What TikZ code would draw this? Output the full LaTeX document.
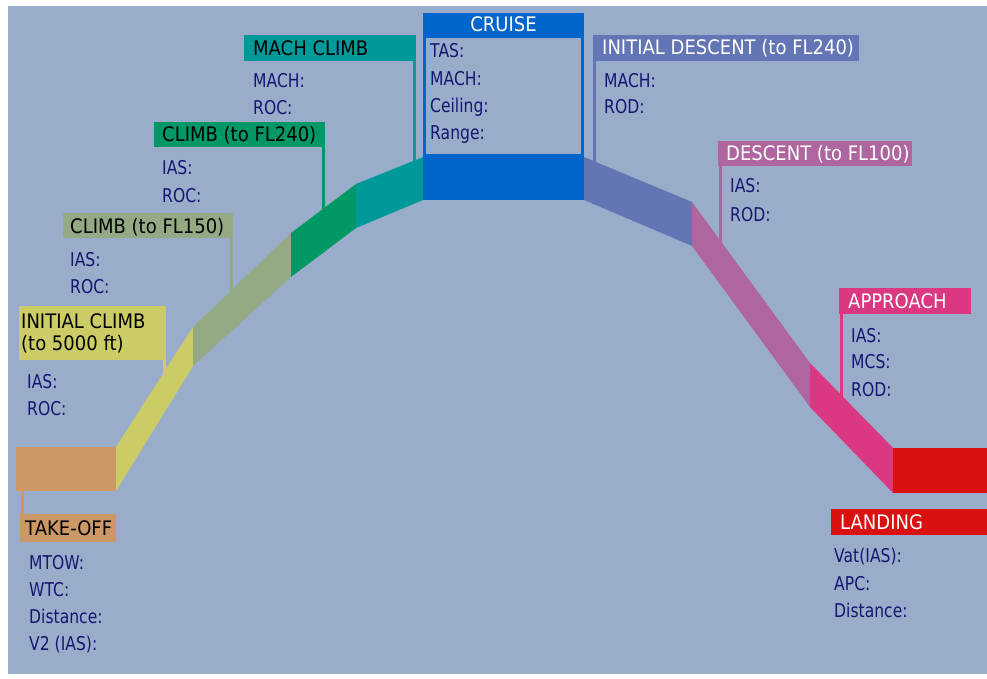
\documentclass[tikz,border=0pt]{standalone}
\usepackage{fontspec}
\newfontfamily\hdrfont[FakeStretch=0.9]{DejaVu Sans}
\newfontfamily\bodyfont[FakeStretch=0.82]{DejaVu Sans}

\definecolor{bgc}{HTML}{99ADCB}
\definecolor{navy}{HTML}{161672}
\definecolor{cTO}{HTML}{CC9966}
\definecolor{cIC}{HTML}{CCCC66}
\definecolor{cCa}{HTML}{93AA84}
\definecolor{cCb}{HTML}{009966}
\definecolor{cMC}{HTML}{009999}
\definecolor{cCR}{HTML}{0066CC}
\definecolor{cID}{HTML}{6475B6}
\definecolor{cDS}{HTML}{AF659E}
\definecolor{cAP}{HTML}{DA3880}
\definecolor{cLD}{HTML}{DB1111}

\begin{document}
\begin{tikzpicture}[x=1pt,y=-1pt,
  hdrbox/.style={draw=none,inner sep=0pt,outer sep=0pt,anchor=north west},
  hdrtxt/.style={font=\hdrfont\fontsize{20}{22}\selectfont,inner sep=0pt,anchor=base west},
  info/.style={font=\bodyfont\fontsize{19}{22}\selectfont,text=navy,inner sep=0pt,anchor=base west},
  lead/.style={line width=3pt}]

% canvas
\useasboundingbox (0,0) rectangle (987,679);
\fill[white] (0,0) rectangle (987,679);
\fill[bgc] (8,6) rectangle (987,674);

% ---------------- header boxes ----------------
\node[hdrbox,fill=cTO,minimum width=96pt,minimum height=28pt] (tohdr) at (20,514) {};
\node[hdrbox,fill=cIC,minimum width=147pt,minimum height=54pt] (ichdr) at (19,306) {};
\node[hdrbox,fill=cCa,minimum width=170pt,minimum height=25pt] (cahdr) at (63,213) {};
\node[hdrbox,fill=cCb,minimum width=171pt,minimum height=25pt] (cbhdr) at (154,122) {};
\node[hdrbox,fill=cMC,minimum width=172pt,minimum height=26pt] (mchdr) at (244,35) {};
\node[hdrbox,draw=cCR,line width=3pt,minimum width=158pt,minimum height=141pt] (crbox) at (424.5,14.5) {};
\node[hdrbox,fill=cCR,minimum width=161pt,minimum height=25pt] (crhdr) at (423,13) {};
\node[hdrbox,fill=cID,minimum width=266pt,minimum height=26pt] (idhdr) at (593,35) {};
\node[hdrbox,fill=cDS,minimum width=194pt,minimum height=25pt] (dshdr) at (718,141) {};
\node[hdrbox,fill=cAP,minimum width=132pt,minimum height=26pt] (aphdr) at (839,288) {};
\node[hdrbox,fill=cLD,minimum width=156pt,minimum height=26pt] (ldhdr) at (831,509) {};

% ---------------- leader lines ----------------
\coordinate (tofoot) at (22.5,489);
\coordinate (icfoot) at (164.5,374);
\coordinate (cafoot) at (231,293);
\coordinate (cbfoot) at (323.5,211);
\coordinate (mcfoot) at (414.5,163);
\coordinate (idfoot) at (594.5,164);
\coordinate (dsfoot) at (720,243);
\coordinate (apfoot) at (841.5,398);
\draw[lead,cTO] (tofoot) -- (tofoot |- tohdr.north);
\draw[lead,cIC] (icfoot |- ichdr.south) -- (icfoot);
\draw[lead,cCa] (cafoot |- cahdr.south) -- (cafoot);
\draw[lead,cCb] (cbfoot |- cbhdr.south) -- (cbfoot);
\draw[lead,cMC] (mcfoot |- mchdr.south) -- (mcfoot);
\draw[lead,cID] (idfoot |- idhdr.south) -- (idfoot);
\draw[lead,cDS] (dsfoot |- dshdr.south) -- (dsfoot);
\draw[lead,cAP] (apfoot |- aphdr.south) -- (apfoot);

% ---------------- flight profile band ----------------
\fill[cTO] (16,447) -- (116,447) -- (116,491) -- (16,491) -- cycle;
\fill[cIC] (116,447) -- (193,327) -- (193,366) -- (116,491) -- cycle;
\fill[cCa] (193,327) -- (291,233) -- (291,277) -- (193,366) -- cycle;
\fill[cCb] (291,233) -- (356,184) -- (356,228) -- (291,277) -- cycle;
\fill[cMC] (356,184) -- (423,157) -- (423,200) -- (356,228) -- cycle;
\fill[cCR] (423,155) -- (584,155) -- (584,200) -- (423,200) -- cycle;
\fill[cID] (584,157) -- (692,202) -- (692,246) -- (584,200) -- cycle;
\fill[cDS] (692,202) -- (810,363) -- (810,407) -- (692,246) -- cycle;
\fill[cAP] (810,363) -- (893,448) -- (893,493) -- (810,407) -- cycle;
\fill[cLD] (893,448) -- (987,448) -- (987,493) -- (893,493) -- cycle;

% ---------------- header texts ----------------
\node[hdrtxt,text=black] (totxt) at (25,535) {TAKE-OFF};
\node[hdrtxt,text=black] (ictxta) at (21,328) {INITIAL CLIMB};
\node[hdrtxt,text=black] (ictxtb) at (21,350) {(to 5000 ft)};
\node[hdrtxt,text=black] (catxt) at (70,233) {CLIMB (to FL150)};
\node[hdrtxt,text=black] (cbtxt) at (162,142) {CLIMB (to FL240)};
\node[hdrtxt,text=black] (mctxt) at (253,56) {MACH CLIMB};
\node[hdrtxt,text=white,anchor=base] (crtxt) at (503.5,32) {CRUISE};
\node[hdrtxt,text=white] (idtxt) at (602,55) {INITIAL DESCENT (to FL240)};
\node[hdrtxt,text=white] (dstxt) at (726,161) {DESCENT (to FL100)};
\node[hdrtxt,text=white] (aptxt) at (848,308) {APPROACH};
\node[hdrtxt,text=white] (ldtxt) at (840,529) {LANDING};

% ---------------- parameter lists ----------------
\node[info] (toa) at (29,569) {MTOW:};
\node[info] (tob) at (29,596) {WTC:};
\node[info] (toc) at (29,623) {Distance:};
\node[info] (tod) at (29,650) {V2 (IAS):};

\node[info] (ica) at (27,388) {IAS:};
\node[info] (icb) at (27,415) {ROC:};

\node[info] (caa) at (70,266) {IAS:};
\node[info] (cab) at (70,293) {ROC:};

\node[info] (cba) at (162,175) {IAS:};
\node[info] (cbb) at (162,202) {ROC:};

\node[info] (mca) at (253,88) {MACH:};
\node[info] (mcb) at (253,115) {ROC:};

\node[info] (cra) at (430,58) {TAS:};
\node[info] (crb) at (430,86) {MACH:};
\node[info] (crc) at (430,113) {Ceiling:};
\node[info] (crd) at (430,140) {Range:};

\node[info] (ida) at (604,88) {MACH:};
\node[info] (idb) at (604,114) {ROD:};

\node[info] (dsa) at (730,193) {IAS:};
\node[info] (dsb) at (730,221) {ROD:};

\node[info] (apa) at (851,342) {IAS:};
\node[info] (apb) at (851,368) {MCS:};
\node[info] (apc) at (851,396) {ROD:};

\node[info] (lda) at (834,562) {Vat(IAS):};
\node[info] (ldb) at (834,590) {APC:};
\node[info] (ldc) at (834,617) {Distance:};
\end{tikzpicture}
\end{document}
